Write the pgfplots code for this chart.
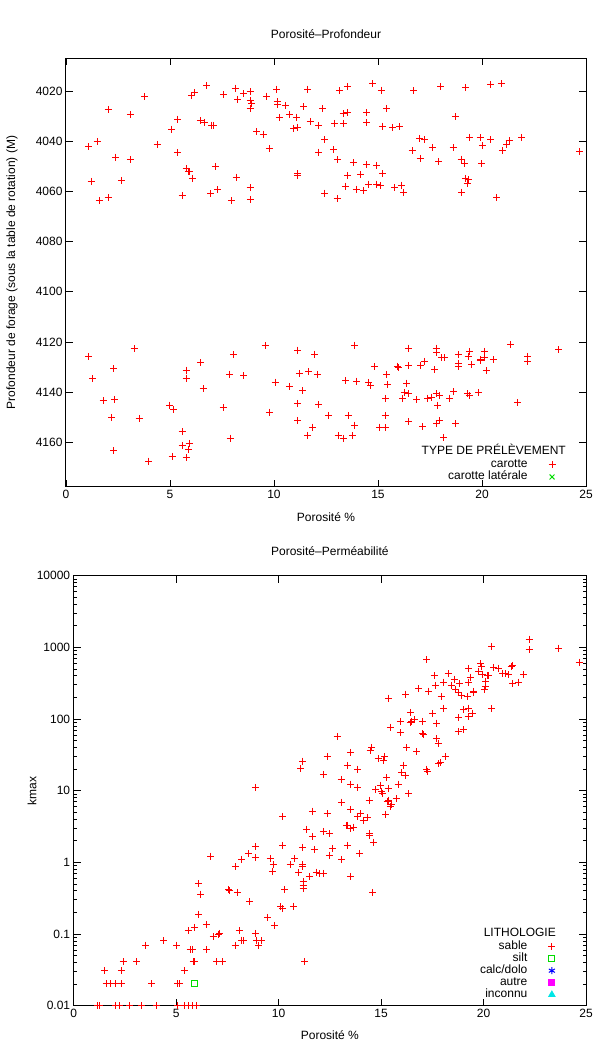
\documentclass[border=0pt]{standalone}
\usepackage{fontspec}
\setmainfont{Liberation Sans}
\usepackage{pgfplots}
\pgfplotsset{compat=1.18}
\definecolor{gpred}{RGB}{255,0,0}
\definecolor{gpgreen}{RGB}{0,220,0}
\definecolor{gpblue}{RGB}{0,0,255}
\definecolor{gpmag}{RGB}{255,0,255}
\definecolor{gpcyan}{RGB}{0,230,230}
\pgfplotstableread{
x y
1.09 4042.2
1.50 4040.2
1.21 4056.0
1.61 4063.6
2.02 4062.6
2.02 4027.3
2.39 4046.4
2.69 4055.6
3.10 4029.5
3.10 4047.5
3.78 4022.4
4.38 4041.5
5.08 4035.2
5.38 4031.2
5.38 4044.7
5.58 4061.7
5.77 4051.0
5.88 4051.9
5.96 4052.1
6.07 4054.7
6.05 4022.0
6.18 4020.7
6.46 4031.9
6.66 4032.5
6.77 4018.0
7.01 4033.6
7.07 4033.6
7.18 4050.0
6.96 4060.9
7.29 4059.3
7.57 4021.6
7.96 4063.7
8.13 4018.9
8.18 4054.3
8.26 4023.3
8.55 4021.1
8.85 4020.4
8.85 4024.0
8.85 4026.9
8.94 4025.0
8.85 4058.5
8.87 4063.2
9.17 4036.2
9.48 4037.2
9.63 4022.1
9.78 4043.0
10.13 4019.3
10.15 4024.4
10.17 4025.5
10.26 4030.7
10.56 4025.9
10.74 4029.5
10.96 4034.8
11.06 4030.4
11.15 4034.5
11.13 4053.0
11.15 4053.7
11.43 4026.3
11.63 4019.3
11.74 4032.1
12.15 4033.7
12.15 4044.4
12.34 4027.1
12.45 4039.5
12.45 4060.7
12.86 4043.4
12.93 4032.9
13.06 4047.5
13.04 4062.9
13.15 4020.0
13.32 4029.0
13.34 4032.9
13.54 4028.6
13.54 4018.4
13.54 4053.8
13.43 4057.9
13.82 4048.6
13.95 4059.1
14.16 4053.3
14.32 4059.7
14.45 4049.3
14.45 4028.7
14.45 4032.7
14.56 4057.1
14.75 4017.1
14.94 4049.6
14.94 4057.1
15.14 4057.6
15.16 4019.7
15.23 4053.0
15.23 4034.0
15.42 4026.9
15.71 4034.5
15.81 4058.4
16.05 4034.3
16.14 4057.5
16.23 4060.5
16.64 4043.9
16.72 4020.0
17.01 4038.9
17.03 4046.9
17.25 4039.4
17.63 4042.6
17.92 4048.1
18.01 4018.2
18.61 4042.7
18.72 4030.2
19.00 4047.2
19.02 4060.3
19.17 4048.8
19.20 4054.8
19.22 4018.7
19.28 4057.0
19.33 4055.4
19.42 4038.5
19.91 4038.7
19.98 4048.9
20.02 4041.9
20.41 4039.4
20.43 4017.6
20.72 4062.4
20.93 4017.1
20.98 4043.8
21.19 4041.5
21.30 4039.8
21.91 4038.5
24.69 4044.2
1.09 4125.7
1.28 4134.7
2.30 4130.6
2.32 4142.8
1.78 4143.4
2.19 4150.0
2.30 4163.3
3.28 4122.6
3.51 4150.4
3.99 4167.4
4.99 4145.1
5.19 4146.8
5.58 4155.8
5.77 4131.2
5.77 4134.4
5.58 4161.1
5.92 4160.3
5.88 4162.9
5.10 4165.5
5.77 4166.1
6.47 4128.2
6.59 4138.5
7.55 4146.1
7.85 4132.8
7.89 4158.3
8.05 4125.0
8.55 4133.5
9.57 4121.5
9.78 4147.9
10.06 4136.0
10.76 4137.6
11.13 4123.2
11.15 4144.4
11.22 4132.5
11.37 4139.3
11.67 4131.9
11.15 4151.3
11.87 4153.9
11.97 4124.8
11.63 4157.2
12.09 4132.9
12.15 4144.9
12.63 4149.2
13.08 4157.4
13.34 4158.4
13.56 4149.4
13.78 4157.4
13.45 4135.4
13.86 4121.2
13.97 4135.6
13.86 4153.1
14.55 4136.1
14.64 4137.3
14.82 4129.9
15.08 4153.9
15.34 4154.1
15.42 4133.1
15.45 4137.0
15.36 4142.4
15.34 4149.4
15.94 4129.6
15.97 4130.2
16.20 4142.6
16.27 4140.2
16.38 4136.4
16.46 4140.5
16.46 4129.4
16.46 4151.7
16.46 4122.4
16.86 4142.8
17.05 4129.2
17.16 4153.7
17.24 4127.7
17.38 4142.3
17.57 4141.9
17.72 4131.1
17.79 4140.6
17.83 4152.5
17.79 4122.4
17.83 4124.1
17.87 4145.2
17.94 4141.1
17.94 4151.3
18.07 4126.2
18.22 4126.3
18.16 4158.0
18.46 4142.3
18.65 4139.8
18.74 4152.5
18.87 4125.0
18.87 4128.6
18.87 4129.8
19.33 4125.8
19.31 4140.6
19.42 4123.7
19.50 4129.1
19.85 4140.2
19.91 4127.3
20.11 4123.7
20.13 4126.3
20.20 4131.5
20.54 4127.0
21.39 4121.1
21.73 4144.2
22.21 4125.7
22.21 4127.7
23.69 4123.0
19.39 4141.4
19.94 4127.0
}\depthdata
\pgfplotstableread{
x k
15.36 196
15.45 77
15.94 93
15.94 64
16.20 223
16.43 124
16.43 90
16.50 93
16.65 98
16.84 265
17.03 93
17.03 62
17.07 60
17.22 673
17.33 246
17.52 119
17.59 403
17.67 295
17.71 88
17.93 207
18.05 328
18.05 142
18.27 430
18.42 298
18.57 361
18.65 256
18.76 231
18.76 67
18.80 104
18.83 311
18.91 212
19.02 71
19.02 135
19.21 207
19.25 109
19.25 142
19.25 325
19.29 509
19.36 385
19.44 121
19.51 243
19.85 591
19.89 543
19.96 416
20.04 256
20.08 286
20.11 336
20.19 403
20.26 403
20.41 1033
20.41 139
20.49 526
20.71 515
20.94 425
21.05 425
21.20 416
21.35 543
21.43 555
21.43 311
21.73 328
21.95 416
22.22 1307
22.22 927
23.68 979
24.66 624
12.86 57
17.71 53
19.77 462
19.49 231
13.53 34.3
17.78 45.7
16.24 39.8
16.73 35
14.55 40.3
14.47 36.9
12.37 29.8
11.17 25.9
11.09 20.5
12.18 16.9
13.35 22.3
13.87 20
13.05 14.4
13.53 12.4
13.87 11.1
15.19 29.8
15.11 26.8
14.85 27.7
16.09 22.8
16.02 17.8
16.20 16.5
17.22 20
17.26 18.8
17.82 23.6
17.89 24.8
18.14 29.8
15.26 15.2
14.74 10.4
14.96 12.0
15.04 9.7
15.08 9.2
15.34 10.8
15.38 7.4
15.30 7.1
15.49 6.5
15.45 6.1
15.83 12.4
15.75 7.7
16.35 9.0
15.23 4.7
14.42 7.4
14.36 4.2
14.14 3.8
13.87 4.4
13.98 4.8
13.65 3.1
13.38 3.3
13.50 3.0
13.31 3.25
13.53 5.5
13.08 6.9
12.37 4.8
12.18 2.7
12.48 2.5
11.65 5.2
11.35 2.9
11.65 2.3
14.44 2.54
14.44 2.4
14.62 1.9
13.36 1.73
13.95 1.34
12.63 1.57
12.48 1.26
13.08 1.10
11.73 1.52
11.17 1.62
10.19 4.4
8.87 11.1
8.87 1.66
8.87 1.17
10.19 1.73
9.59 1.14
9.74 0.93
8.20 1.10
7.89 0.87
6.69 1.22
8.53 1.31
10.56 0.93
10.79 1.14
11.17 0.93
11.17 0.87
10.98 0.72
11.50 0.63
11.84 0.73
11.99 0.69
12.18 0.70
13.50 0.64
11.20 0.54
11.20 0.47
11.20 0.43
10.30 0.42
9.70 0.75
6.09 0.50
6.20 0.36
7.56 0.42
7.59 0.40
8.01 0.38
8.59 0.28
10.11 0.24
10.19 0.225
10.75 0.246
14.59 0.38
1.50 0.0307
2.33 0.0307
5.39 0.0307
2.41 0.041
3.08 0.041
5.83 0.041
5.90 0.041
6.99 0.041
7.27 0.041
11.28 0.041
1.58 0.0203
1.82 0.0203
2.03 0.0203
2.33 0.0203
3.82 0.0203
5.08 0.0203
5.17 0.0203
1.15 0.01
1.24 0.01
2.05 0.01
2.24 0.01
2.73 0.01
3.31 0.01
4.02 0.01
5.08 0.01
5.43 0.01
5.62 0.01
5.81 0.01
6.00 0.01
3.52 0.070
4.40 0.081
5.02 0.070
5.58 0.111
5.68 0.061
5.79 0.061
5.90 0.124
6.47 0.134
6.47 0.061
6.80 0.092
7.09 0.100
7.12 0.102
7.88 0.070
8.08 0.111
8.21 0.082
8.27 0.081
8.87 0.102
8.91 0.082
9.02 0.070
9.17 0.081
9.47 0.171
9.79 0.132
6.11 0.19
}\permdata
\pgfplotstableread{
x k
5.90 0.0203
}\siltdata
\begin{document}
\begin{tikzpicture}[font=\fontsize{12}{14}\selectfont]
\path[use as bounding box] (0pt,0pt) rectangle (604pt,1044pt);
\pgfplotsset{
 gp/.style={
  scale only axis,
  anchor=south west,
  axis line style={line width=1pt},
  every tick/.style={black, line width=0.8pt},
  major tick length=7pt, minor tick length=3.5pt,
  tick align=inside,
  /pgf/number format/assume math mode=true,
  /pgf/number format/set thousands separator={},
  tick label style={font=\fontsize{12}{14}\selectfont},
  label style={font=\fontsize{12}{14}\selectfont},
  legend plot pos=right, legend cell align=right,
  legend style={draw=none, fill=none, inner sep=0pt, outer sep=0pt, row sep=0pt, column sep=21pt,
    nodes={inner sep=0pt, text height=8.6pt, text depth=3.4pt}, font=\fontsize{12}{14}\selectfont},
  gpmark/.style={only marks, mark size=3.5pt, mark options={solid, line width=1pt}},
 }
}
\begin{axis}[gp, at={(66pt,557.3pt)}, width=520pt, height=428.4pt,
  xmin=0, xmax=25, ymin=4007, ymax=4177.6, y dir=reverse,
  xtick={0,5,...,25}, ytick={4020,4040,...,4160},
  title={Porosité–Profondeur},
  title style={at={(axis description cs:0.5,1.0427)}, anchor=center, font=\fontsize{12}{14}\selectfont},
  xlabel={Porosité \%},
  xlabel style={at={(axis description cs:0.5,-0.0714)}, anchor=center},
  ylabel={Profondeur de forage (sous la table de rotation) (M)},
  ylabel style={at={(axis description cs:-0.1038,0.5)}, anchor=center},
  legend style={at={(axis description cs:0.9414,0.0647)}, anchor=north east},
]
\addplot[gpmark, mark=+, color=gpred] table[x=x, y=y] {\depthdata};
\addlegendentry{carotte}
\addlegendimage{gpmark, mark=x, color=gpgreen}
\addlegendentry{carotte latérale}
\node[anchor=base east, inner sep=0pt] at (axis description cs:0.9615,0.074) {TYPE DE PRÉLÈVEMENT};
\end{axis}
\begin{axis}[gp, at={(73.7pt,38.3pt)}, width=512.3pt, height=430pt,
  xmin=0, xmax=25, ymode=log, ymin=0.01, ymax=10000,
  xtick={0,5,...,25},
  ytick={0.01,0.1,1,10,100,1000,10000},
  yticklabels={0.01,0.1,1,10,100,1000,10000},
  title={Porosité–Perméabilité},
  title style={at={(axis description cs:0.5,1.0428)}, anchor=center, font=\fontsize{12}{14}\selectfont},
  xlabel={Porosité \%},
  xlabel style={at={(axis description cs:0.5,-0.068)}, anchor=center},
  ylabel={kmax},
  ylabel style={at={(axis description cs:-0.0814,0.5)}, anchor=center},
  legend style={at={(axis description cs:0.9402,0.1512)}, anchor=north east},
]
\addplot[gpmark, mark=+, color=gpred] table[x=x, y=k] {\permdata};
\addlegendentry{sable}
\addplot[gpmark, mark=square, mark size=3pt, color=gpgreen] table[x=x, y=k] {\siltdata};
\addlegendentry{silt}
\addlegendimage{gpmark, mark=asterisk, color=gpblue}
\addlegendentry{calc/dolo}
\addlegendimage{gpmark, mark=square*, mark size=3pt, color=gpmag}
\addlegendentry{autre}
\addlegendimage{gpmark, mark=triangle*, mark size=3.5pt, color=gpcyan}
\addlegendentry{inconnu}
\node[anchor=base east, inner sep=0pt] at (axis description cs:0.9414,0.1614) {LITHOLOGIE};
\end{axis}
\end{tikzpicture}
\end{document}
